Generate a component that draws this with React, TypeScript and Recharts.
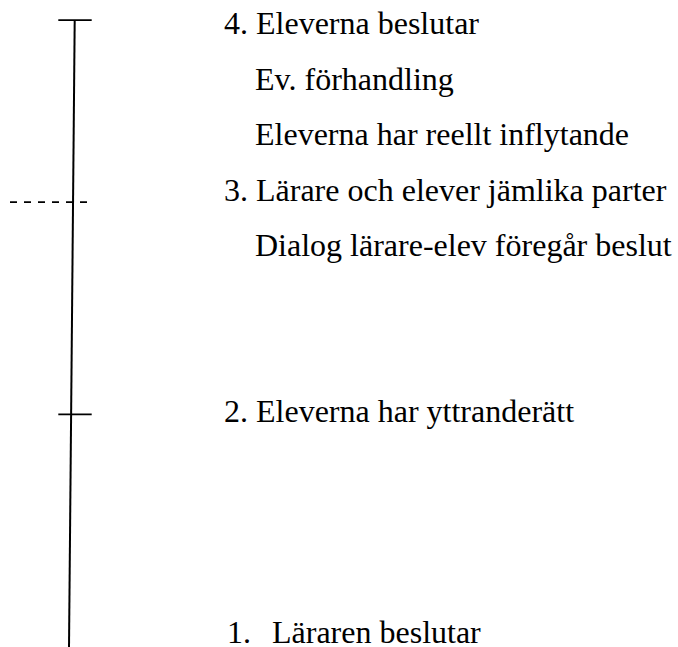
import React from "react";
import { ComposedChart, XAxis, YAxis, Scatter, ReferenceLine } from "recharts";

// Stage texts (left column positions and baselines in diagram units)
const labelTexts = [
  "4. Eleverna beslutar",
  "Ev. förhandling",
  "Eleverna har reellt inflytande",
  "3. Lärare och elever jämlika parter",
  "Dialog lärare-elev föregår beslut",
  "2. Eleverna har yttranderätt",
  "1.",
  "Läraren beslutar",
];
const labelX = [224, 255, 255, 224, 255, 224, 227, 272];
const labelY = [34, 89.5, 145, 200.5, 256, 422, 643, 643];

// Main scale axis (top and bottom ends)
const axisX = [74.7, 69];
const axisY = [20, 647];

// Solid tick marks on the scale
const tickY = [20, 414.3];
const tickX0 = [58.3, 58.3];
const tickX1 = [91.7, 91.7];

// Dashed threshold mark
const dashY = [202];
const dashX0 = [10];
const dashX1 = [87.5];

const labels = labelTexts.map((t, i) => ({ label: t, x: labelX[i], y: labelY[i] }));

const FONT = "'Liberation Serif', 'Times New Roman', 'DejaVu Serif', serif";

const LabelShape = (props: any) => {
  const { cx, cy, payload } = props;
  return (
    <text x={cx} y={cy} style={{ fontFamily: FONT, fontSize: 32 }} fill="#000" textAnchor="start">
      {payload.label}
    </text>
  );
};

export default function App() {
  return (
    <div style={{ position: "absolute", left: 0, top: 0, background: "#fff" }}>
      <ComposedChart width={678} height={647} margin={{ top: 0, right: 0, bottom: 0, left: 0 }}>
        <XAxis type="number" dataKey="x" domain={[0, 678]} hide allowDataOverflow />
        <YAxis type="number" dataKey="y" domain={[0, 647]} reversed hide allowDataOverflow />
        <ReferenceLine
          segment={[
            { x: axisX[0], y: axisY[0] },
            { x: axisX[1], y: axisY[1] },
          ]}
          stroke="#000"
          strokeWidth={2}
          ifOverflow="visible"
        />
        {tickY.map((y, i) => (
          <ReferenceLine
            key={"t" + i}
            segment={[
              { x: tickX0[i], y },
              { x: tickX1[i], y },
            ]}
            stroke="#000"
            strokeWidth={1.75}
            ifOverflow="visible"
          />
        ))}
        {dashY.map((y, i) => (
          <ReferenceLine
            key={"d" + i}
            segment={[
              { x: dashX0[i], y },
              { x: dashX1[i], y },
            ]}
            stroke="#000"
            strokeWidth={1.75}
            strokeDasharray="7 7"
            ifOverflow="visible"
          />
        ))}
        <Scatter data={labels} dataKey="y" isAnimationActive={false} shape={LabelShape} />
      </ComposedChart>
    </div>
  );
}
